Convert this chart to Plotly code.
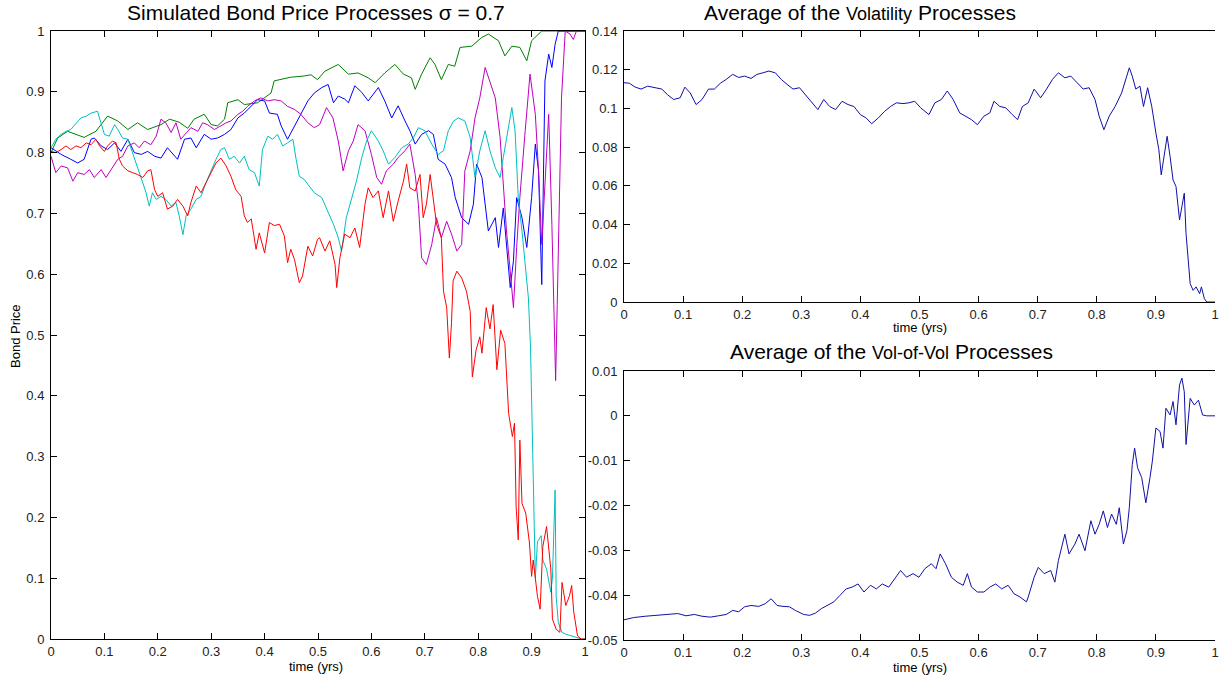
import plotly.graph_objects as go

# ---------------- data ----------------
green_t = [0, 0.0125, 0.031, 0.062, 0.084, 0.106, 0.125, 0.144, 0.162, 0.181,
           0.206, 0.222, 0.240, 0.256, 0.268, 0.287, 0.300, 0.312, 0.325, 0.331,
           0.350, 0.362, 0.387, 0.412, 0.418, 0.449, 0.474, 0.487, 0.499, 0.513,
           0.538, 0.557, 0.575, 0.594, 0.607, 0.625, 0.644, 0.660, 0.675, 0.682,
           0.694, 0.710, 0.719, 0.731, 0.744, 0.756, 0.766, 0.788, 0.806, 0.819,
           0.838, 0.850, 0.863, 0.878, 0.891, 0.900, 0.919, 1.0]
green_v = [0.800, 0.824, 0.835, 0.825, 0.835, 0.860, 0.852, 0.838, 0.849, 0.838,
           0.846, 0.855, 0.850, 0.840, 0.855, 0.863, 0.846, 0.844, 0.855, 0.882,
           0.887, 0.879, 0.882, 0.898, 0.918, 0.924, 0.926, 0.928, 0.920, 0.934,
           0.945, 0.929, 0.931, 0.923, 0.915, 0.931, 0.945, 0.929, 0.923, 0.904,
           0.929, 0.956, 0.945, 0.920, 0.945, 0.942, 0.973, 0.975, 0.989, 0.995,
           0.984, 0.959, 0.975, 0.973, 0.951, 0.984, 1.0, 1.0]

blue_t = [0, 0.019, 0.037, 0.05, 0.062, 0.075, 0.081, 0.094, 0.106, 0.119,
          0.131, 0.144, 0.156, 0.169, 0.181, 0.194, 0.206, 0.218, 0.237, 0.25,
          0.262, 0.272, 0.287, 0.3, 0.312, 0.325, 0.337, 0.35, 0.362, 0.375,
          0.387, 0.4, 0.409, 0.424, 0.431, 0.443, 0.456, 0.468, 0.481, 0.493,
          0.507, 0.519, 0.529, 0.538, 0.55, 0.557, 0.569, 0.582, 0.594, 0.613,
          0.625, 0.638, 0.65, 0.663, 0.672, 0.682, 0.694, 0.707, 0.716, 0.725,
          0.738, 0.75, 0.757, 0.769, 0.782, 0.791, 0.797, 0.807, 0.813, 0.819,
          0.832, 0.838, 0.847, 0.853, 0.86, 0.866, 0.872, 0.882, 0.891, 0.9,
          0.907, 0.913, 0.919, 0.925, 0.932, 0.938, 0.944, 0.95, 1.0]
blue_v = [0.808, 0.797, 0.789, 0.783, 0.789, 0.822, 0.824, 0.811, 0.805, 0.816,
          0.802, 0.822, 0.800, 0.797, 0.802, 0.794, 0.791, 0.808, 0.789, 0.822,
          0.824, 0.808, 0.830, 0.822, 0.824, 0.830, 0.838, 0.857, 0.865, 0.876,
          0.887, 0.885, 0.865, 0.863, 0.844, 0.822, 0.844, 0.863, 0.885, 0.898,
          0.907, 0.912, 0.882, 0.893, 0.888, 0.882, 0.910, 0.899, 0.885, 0.907,
          0.885, 0.857, 0.877, 0.852, 0.836, 0.814, 0.830, 0.836, 0.830, 0.789,
          0.781, 0.759, 0.726, 0.693, 0.682, 0.715, 0.781, 0.759, 0.715, 0.671,
          0.693, 0.644, 0.709, 0.649, 0.578, 0.622, 0.726, 0.693, 0.644, 0.726,
          0.814, 0.770, 0.583, 0.918, 0.962, 0.940, 0.978, 1.0, 1.0]

magenta_t = [0, 0.009, 0.019, 0.031, 0.041, 0.05, 0.062, 0.072, 0.081, 0.094,
             0.103, 0.112, 0.125, 0.134, 0.144, 0.156, 0.165, 0.175, 0.187, 0.197,
             0.206, 0.215, 0.225, 0.234, 0.243, 0.256, 0.262, 0.275, 0.284, 0.293,
             0.306, 0.318, 0.328, 0.337, 0.35, 0.359, 0.368, 0.381, 0.393, 0.406,
             0.418, 0.431, 0.443, 0.456, 0.468, 0.481, 0.493, 0.503, 0.516, 0.528,
             0.538, 0.547, 0.557, 0.566, 0.575, 0.588, 0.6, 0.61, 0.619, 0.628,
             0.641, 0.65, 0.663, 0.672, 0.682, 0.688, 0.694, 0.703, 0.713, 0.722,
             0.731, 0.741, 0.75, 0.76, 0.769, 0.775, 0.785, 0.794, 0.803, 0.813,
             0.822, 0.832, 0.841, 0.847, 0.853, 0.86, 0.866, 0.872, 0.878, 0.888,
             0.897, 0.907, 0.913, 0.919, 0.925, 0.932, 0.938, 0.942, 0.945, 0.948,
             0.952, 0.956, 0.963, 0.972, 0.978, 0.984, 1.0]
magenta_v = [0.794, 0.767, 0.778, 0.775, 0.753, 0.767, 0.764, 0.772, 0.759, 0.772,
             0.759, 0.772, 0.789, 0.794, 0.811, 0.816, 0.808, 0.819, 0.813, 0.827,
             0.855, 0.849, 0.833, 0.849, 0.822, 0.835, 0.841, 0.835, 0.849, 0.846,
             0.838, 0.844, 0.849, 0.852, 0.863, 0.868, 0.876, 0.885, 0.890, 0.885,
             0.887, 0.885, 0.876, 0.871, 0.863, 0.849, 0.841, 0.846, 0.874, 0.857,
             0.819, 0.770, 0.803, 0.819, 0.846, 0.836, 0.797, 0.759, 0.748, 0.770,
             0.781, 0.792, 0.803, 0.814, 0.764, 0.715, 0.627, 0.616, 0.649, 0.693,
             0.660, 0.687, 0.666, 0.638, 0.649, 0.770, 0.803, 0.857, 0.890, 0.940,
             0.918, 0.890, 0.825, 0.753, 0.671, 0.605, 0.545, 0.644, 0.726, 0.836,
             0.929, 0.863, 0.770, 0.649, 0.753, 0.863, 0.682, 0.500, 0.425, 0.550,
             0.750, 0.890, 1.0, 0.995, 0.986, 1.0, 1.0]

cyan_t = [0, 0.009, 0.019, 0.028, 0.037, 0.047, 0.056, 0.066, 0.075, 0.087,
          0.094, 0.1, 0.109, 0.119, 0.125, 0.134, 0.144, 0.153, 0.162, 0.172,
          0.178, 0.184, 0.19, 0.197, 0.206, 0.215, 0.225, 0.234, 0.24, 0.247,
          0.253, 0.262, 0.272, 0.281, 0.29, 0.3, 0.309, 0.318, 0.325, 0.334,
          0.343, 0.353, 0.362, 0.371, 0.381, 0.39, 0.396, 0.406, 0.415, 0.424,
          0.434, 0.443, 0.453, 0.459, 0.465, 0.474, 0.484, 0.493, 0.507, 0.516,
          0.529, 0.538, 0.544, 0.553, 0.563, 0.572, 0.582, 0.591, 0.6, 0.613,
          0.622, 0.632, 0.644, 0.657, 0.669, 0.679, 0.688, 0.7, 0.713, 0.725,
          0.735, 0.744, 0.754, 0.763, 0.775, 0.785, 0.794, 0.803, 0.813, 0.822,
          0.832, 0.841, 0.847, 0.853, 0.863, 0.869, 0.875, 0.882, 0.888, 0.894,
          0.898, 0.901, 0.903, 0.905, 0.907, 0.911, 0.918, 0.921, 0.928, 0.936,
          0.939, 0.944, 0.946, 0.95, 0.957, 0.964, 0.979, 0.993, 1.0]
cyan_v = [0.808, 0.822, 0.830, 0.835, 0.838, 0.849, 0.857, 0.860, 0.865, 0.868,
          0.849, 0.830, 0.827, 0.846, 0.838, 0.824, 0.822, 0.800, 0.778, 0.750,
          0.734, 0.712, 0.734, 0.723, 0.728, 0.723, 0.712, 0.718, 0.696, 0.665,
          0.696, 0.707, 0.723, 0.728, 0.750, 0.772, 0.789, 0.805, 0.808, 0.789,
          0.794, 0.783, 0.794, 0.772, 0.767, 0.745, 0.805, 0.827, 0.822, 0.830,
          0.811, 0.816, 0.822, 0.789, 0.761, 0.756, 0.745, 0.734, 0.726, 0.709,
          0.682, 0.660, 0.638, 0.693, 0.726, 0.753, 0.792, 0.819, 0.836, 0.819,
          0.803, 0.781, 0.792, 0.808, 0.814, 0.825, 0.841, 0.836, 0.814, 0.797,
          0.803, 0.836, 0.852, 0.857, 0.852, 0.825, 0.759, 0.803, 0.836, 0.803,
          0.775, 0.759, 0.792, 0.825, 0.874, 0.836, 0.726, 0.671, 0.616, 0.561,
          0.480, 0.350, 0.290, 0.210, 0.100, 0.160, 0.170, 0.130, 0.115, 0.077,
          0.100, 0.245, 0.070, 0.027, 0.011, 0.008, 0.004, 0.0, 0.0]

red_t = [0, 0.009, 0.019, 0.028, 0.037, 0.047, 0.056, 0.066, 0.075, 0.084,
         0.091, 0.1, 0.106, 0.115, 0.122, 0.128, 0.134, 0.144, 0.153, 0.162,
         0.172, 0.181, 0.187, 0.194, 0.2, 0.209, 0.218, 0.228, 0.237, 0.247,
         0.256, 0.262, 0.272, 0.281, 0.29, 0.3, 0.309, 0.318, 0.328, 0.337,
         0.346, 0.356, 0.362, 0.368, 0.375, 0.384, 0.39, 0.4, 0.409, 0.418,
         0.428, 0.437, 0.443, 0.449, 0.456, 0.465, 0.471, 0.481, 0.49, 0.499,
         0.503, 0.513, 0.522, 0.532, 0.535, 0.541, 0.55, 0.56, 0.569, 0.578,
         0.588, 0.594, 0.603, 0.613, 0.622, 0.632, 0.641, 0.65, 0.66, 0.666,
         0.672, 0.682, 0.691, 0.697, 0.703, 0.71, 0.716, 0.722, 0.731, 0.735,
         0.741, 0.744, 0.746, 0.75, 0.753, 0.76, 0.769, 0.778, 0.785, 0.789,
         0.796, 0.803, 0.807, 0.815, 0.822, 0.828, 0.835, 0.842, 0.85, 0.857,
         0.864, 0.868, 0.871, 0.875, 0.878, 0.882, 0.889, 0.896, 0.9, 0.903,
         0.911, 0.916, 0.921, 0.928, 0.936, 0.939, 0.946, 0.953, 0.957, 0.964,
         0.971, 0.975, 0.979, 0.986, 0.993, 1.0]
red_v = [0.802, 0.800, 0.805, 0.811, 0.805, 0.811, 0.808, 0.816, 0.813, 0.822,
         0.811, 0.802, 0.811, 0.819, 0.816, 0.789, 0.778, 0.770, 0.767, 0.764,
         0.759, 0.770, 0.772, 0.739, 0.728, 0.734, 0.707, 0.712, 0.723, 0.712,
         0.696, 0.718, 0.745, 0.734, 0.750, 0.767, 0.783, 0.791, 0.778, 0.761,
         0.739, 0.728, 0.696, 0.685, 0.691, 0.641, 0.668, 0.635, 0.685, 0.680,
         0.682, 0.663, 0.619, 0.641, 0.624, 0.586, 0.597, 0.646, 0.630, 0.657,
         0.660, 0.638, 0.655, 0.616, 0.578, 0.627, 0.666, 0.660, 0.676, 0.644,
         0.715, 0.742, 0.726, 0.737, 0.693, 0.737, 0.687, 0.720, 0.753, 0.781,
         0.742, 0.737, 0.764, 0.693, 0.715, 0.764, 0.726, 0.682, 0.660, 0.572,
         0.545, 0.490, 0.462, 0.520, 0.589, 0.605, 0.594, 0.572, 0.539, 0.431,
         0.475, 0.497, 0.470, 0.545, 0.510, 0.550, 0.443, 0.508, 0.486, 0.371,
         0.333, 0.355, 0.218, 0.163, 0.327, 0.223, 0.207, 0.158, 0.103, 0.130,
         0.070, 0.049, 0.152, 0.185, 0.115, 0.033, 0.016, 0.011, 0.093, 0.055,
         0.071, 0.088, 0.044, 0.005, 0.0, 0.0]

vol_t = [0, 0.009, 0.019, 0.029, 0.04, 0.05, 0.064, 0.074, 0.084, 0.095,
         0.103, 0.112, 0.122, 0.132, 0.143, 0.153, 0.163, 0.173, 0.184, 0.194,
         0.204, 0.215, 0.225, 0.235, 0.245, 0.256, 0.266, 0.276, 0.286, 0.297,
         0.307, 0.317, 0.328, 0.338, 0.348, 0.358, 0.369, 0.379, 0.389, 0.4,
         0.41, 0.419, 0.43, 0.441, 0.451, 0.461, 0.472, 0.482, 0.492, 0.502,
         0.516, 0.526, 0.537, 0.547, 0.557, 0.568, 0.578, 0.588, 0.598, 0.609,
         0.619, 0.626, 0.636, 0.646, 0.657, 0.666, 0.674, 0.684, 0.694, 0.705,
         0.715, 0.725, 0.735, 0.746, 0.756, 0.766, 0.777, 0.787, 0.797, 0.804,
         0.812, 0.821, 0.831, 0.842, 0.849, 0.855, 0.86, 0.866, 0.873, 0.879,
         0.886, 0.893, 0.9, 0.905, 0.909, 0.914, 0.919, 0.924, 0.929, 0.934,
         0.94, 0.944, 0.948, 0.951, 0.955, 0.958, 0.963, 0.968, 0.974, 0.977,
         0.982, 0.986, 1.0]
vol_v = [0.1133, 0.113, 0.111, 0.110, 0.1115, 0.111, 0.110, 0.107, 0.1046, 0.1055,
         0.111, 0.108, 0.102, 0.1046, 0.110, 0.110, 0.113, 0.115, 0.1176, 0.116,
         0.1167, 0.1155, 0.1176, 0.1184, 0.1193, 0.1184, 0.115, 0.1124, 0.110, 0.1107,
         0.107, 0.103, 0.0994, 0.1046, 0.101, 0.0994, 0.1037, 0.102, 0.101, 0.0968,
         0.095, 0.0921, 0.095, 0.0985, 0.101, 0.1029, 0.1025, 0.1029, 0.1037, 0.1003,
         0.0968, 0.1029, 0.1046, 0.109, 0.1046, 0.0977, 0.096, 0.0942, 0.0916, 0.096,
         0.0977, 0.1037, 0.101, 0.1003, 0.0968, 0.0942, 0.101, 0.1029, 0.110, 0.1055,
         0.110, 0.115, 0.1184, 0.1158, 0.1167, 0.1133, 0.110, 0.1107, 0.1046, 0.096,
         0.089, 0.096, 0.101, 0.108, 0.115, 0.121, 0.1167, 0.110, 0.1115, 0.101,
         0.1107, 0.101, 0.0873, 0.0787, 0.0657, 0.077, 0.0856, 0.0752, 0.0631, 0.0597,
         0.0424, 0.0493, 0.0562, 0.0354, 0.0216, 0.0095, 0.006, 0.0078, 0.0043, 0.0078,
         0.0017, 0.0, 0.0]

vov_t = [0, 0.016, 0.036, 0.057, 0.077, 0.091, 0.105, 0.119, 0.132, 0.146,
         0.16, 0.173, 0.184, 0.194, 0.204, 0.215, 0.228, 0.239, 0.249, 0.259,
         0.269, 0.28, 0.29, 0.304, 0.314, 0.324, 0.334, 0.345, 0.355, 0.365,
         0.376, 0.386, 0.396, 0.406, 0.417, 0.427, 0.437, 0.448, 0.458, 0.468,
         0.478, 0.489, 0.499, 0.509, 0.52, 0.528, 0.535, 0.544, 0.554, 0.564,
         0.574, 0.581, 0.588, 0.598, 0.609, 0.619, 0.629, 0.639, 0.65, 0.66,
         0.67, 0.681, 0.684, 0.694, 0.701, 0.711, 0.722, 0.729, 0.735, 0.746,
         0.753, 0.763, 0.77, 0.78, 0.79, 0.797, 0.804, 0.811, 0.818, 0.825,
         0.833, 0.838, 0.845, 0.851, 0.855, 0.86, 0.864, 0.869, 0.876, 0.883,
         0.89, 0.894, 0.9, 0.907, 0.912, 0.917, 0.924, 0.929, 0.934, 0.94,
         0.944, 0.948, 0.951, 0.955, 0.958, 0.965, 0.972, 0.979, 0.986, 1.0]
vov_v = [-0.0455, -0.045, -0.0447, -0.0445, -0.0443, -0.0441, -0.0446, -0.0443, -0.0447, -0.0449,
         -0.0446, -0.0443, -0.0434, -0.0437, -0.0426, -0.0423, -0.0425, -0.0419, -0.0408, -0.0423,
         -0.0425, -0.0426, -0.0434, -0.0443, -0.0445, -0.044, -0.043, -0.0423, -0.0415, -0.0401,
         -0.0386, -0.0382, -0.0375, -0.0393, -0.0378, -0.0386, -0.0375, -0.0382, -0.0364, -0.0345,
         -0.036, -0.0352, -0.036, -0.0341, -0.033, -0.0341, -0.0308, -0.033, -0.036, -0.0371,
         -0.0378, -0.0352, -0.0382, -0.0393, -0.0393, -0.0382, -0.0375, -0.0386, -0.0378, -0.0397,
         -0.0404, -0.0415, -0.0404, -0.036, -0.0338, -0.0352, -0.0345, -0.0371, -0.0323, -0.0264,
         -0.0308, -0.0286, -0.0264, -0.0301, -0.0234, -0.0264, -0.0242, -0.0212, -0.0249, -0.0219,
         -0.0242, -0.0205, -0.0286, -0.0256, -0.0205, -0.0109, -0.0072, -0.0116, -0.0138, -0.0194,
         -0.0138, -0.0101, -0.0027, -0.0035, -0.0072, 0.0017, 0.0002, 0.0032, -0.002, 0.0069,
         0.0084, 0.0054, -0.0064, 0.0002, 0.0039, 0.0024, 0.0035, 0.0002, 0.0, 0.0]

x_ticks = [0, 0.1, 0.2, 0.3, 0.4, 0.5, 0.6, 0.7, 0.8, 0.9, 1]
x_labels = ["0", "0.1", "0.2", "0.3", "0.4", "0.5", "0.6", "0.7", "0.8", "0.9", "1"]
bond_ticks = [0, 0.1, 0.2, 0.3, 0.4, 0.5, 0.6, 0.7, 0.8, 0.9, 1]
bond_labels = ["0", "0.1", "0.2", "0.3", "0.4", "0.5", "0.6", "0.7", "0.8", "0.9", "1"]
vol_ticks = [0, 0.02, 0.04, 0.06, 0.08, 0.1, 0.12, 0.14]
vol_labels = ["0", "0.02", "0.04", "0.06", "0.08", "0.1", "0.12", "0.14"]
vov_ticks = [-0.05, -0.04, -0.03, -0.02, -0.01, 0, 0.01]
vov_labels = ["-0.05", "-0.04", "-0.03", "-0.02", "-0.01", "0", "0.01"]

# ---------------- figure ----------------
W, H = 1220, 678
FONT = "Liberation Sans, Arial, sans-serif"

fig = go.Figure()
series = [
    (green_t, green_v, "#008000"),
    (blue_t, blue_v, "#0000ff"),
    (magenta_t, magenta_v, "#bf00bf"),
    (cyan_t, cyan_v, "#00bfbf"),
    (red_t, red_v, "#ff0000"),
]
for t, v, c in series:
    fig.add_trace(go.Scatter(x=t, y=v, mode="lines", line=dict(color=c, width=1),
                             xaxis="x", yaxis="y", showlegend=False))
fig.add_trace(go.Scatter(x=vol_t, y=vol_v, mode="lines", line=dict(color="#1010a8", width=1),
                         xaxis="x2", yaxis="y2", showlegend=False))
fig.add_trace(go.Scatter(x=vov_t, y=vov_v, mode="lines", line=dict(color="#1010a8", width=1),
                         xaxis="x3", yaxis="y3", showlegend=False))


def px_x(p):
    return p / W


def px_y(p):
    return 1 - p / H


axis_common = dict(showline=True, linecolor="black", linewidth=1, mirror="ticks",
                   ticks="inside", ticklen=6, tickcolor="black", showgrid=False,
                   zeroline=False, tickfont=dict(family=FONT, size=13, color="#222"),
                   automargin=False, ticklabeloverflow="allow")
right_y = dict(axis_common, mirror=False)
RIGHT_END = px_x(1215)

fig.update_layout(
    width=W, height=H, margin=dict(l=0, r=0, t=0, b=0),
    paper_bgcolor="white", plot_bgcolor="white", template="none",
    xaxis=dict(domain=[px_x(51), px_x(585)], range=[0, 1], anchor="y",
               tickvals=x_ticks, ticktext=x_labels, **axis_common),
    yaxis=dict(domain=[px_y(639), px_y(31)], range=[0, 1], anchor="x",
               tickvals=bond_ticks, ticktext=bond_labels, ticklabelstandoff=3, **axis_common),
    xaxis2=dict(domain=[px_x(624), RIGHT_END], range=[0, 1], anchor="y2",
                tickvals=x_ticks, ticktext=x_labels, **axis_common),
    yaxis2=dict(domain=[px_y(302), px_y(31)], range=[0, 0.14], anchor="x2",
                tickvals=vol_ticks, ticktext=vol_labels, ticklabelstandoff=3, **right_y),
    xaxis3=dict(domain=[px_x(624), RIGHT_END], range=[0, 1], anchor="y3",
                tickvals=x_ticks, ticktext=x_labels, **axis_common),
    yaxis3=dict(domain=[px_y(640), px_y(371)], range=[-0.05, 0.01], anchor="x3",
                tickvals=vov_ticks, ticktext=vov_labels, ticklabelstandoff=3, **right_y),
)


def ann(text, x, y, size, angle=0):
    fig.add_annotation(text=text, x=px_x(x), y=px_y(y), xref="paper", yref="paper",
                       showarrow=False, xanchor="center", yanchor="middle", textangle=angle,
                       font=dict(family=FONT, size=size, color="black"))


ann("Simulated Bond Price Processes σ = 0.7", 316, 12, 21)
ann("Average of the <span style='font-size:18px'>Volatility</span> Processes", 860, 13, 21)
ann("Average of the <span style='font-size:18px'>Vol-of-Vol</span> Processes", 891, 351, 21)
ann("time (yrs)", 316, 666, 13)
ann("time (yrs)", 920, 328, 13)
ann("time (yrs)", 920, 667, 13)
ann("Bond Price", 15, 336, 13, angle=-90)

fig.write_html("out.html",
               config={"displayModeBar": False, "staticPlot": True},
               post_script="document.body.style.margin='0px';"
                           "document.body.style.overflow='hidden';")
